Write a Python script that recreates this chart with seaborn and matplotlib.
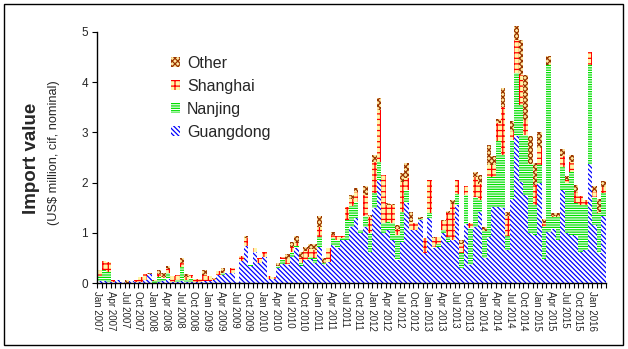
import numpy as np
import pandas as pd
import matplotlib
matplotlib.use("Agg")
import matplotlib.pyplot as plt
from matplotlib.patches import Patch, Rectangle
import seaborn as sns

# ---- data (US$ million), monthly Jan 2007 .. Mar 2016 ----
guangdong = [0.03,0.03,0.02,0.02,0.05,0.01,0.0,0.03,0.01,0.02,
             0.05,0.18,0.0,0.02,0.03,0.08,0.02,0.01,0.03,0.02,
             0.02,0.02,0.02,0.03,0.04,0.06,0.15,0.16,0.19,0.19,
             0.01,0.43,0.74,0.33,0.62,0.39,0.52,0.07,0.07,0.29,
             0.38,0.35,0.52,0.69,0.33,0.46,0.47,0.39,0.72,0.36,
             0.42,0.76,0.69,0.85,0.86,1.11,1.29,0.99,1.11,0.62,
             1.49,2.06,1.0,1.05,0.86,0.46,0.82,1.59,1.05,1.05,
             1.25,0.59,1.29,0.69,0.72,0.99,0.82,0.86,1.55,0.30,
             1.17,0.36,1.12,1.42,0.49,0.92,1.52,1.51,1.49,0.66,
             1.67,2.92,2.02,1.75,1.0,0.96,2.0,0.47,1.02,1.08,
             0.86,1.86,0.99,0.96,0.93,0.62,0.66,2.38,1.16,0.59,
             1.33]
nanjing = [0.10,0.22,0.20,0.0,0.0,0.0,0.0,0.0,0.0,0.0,
           0.0,0.0,0.03,0.10,0.07,0.12,0.0,0.05,0.28,0.03,
           0.07,0.0,0.0,0.0,0.0,0.0,0.0,0.03,0.0,0.0,
           0.0,0.0,0.0,0.03,0.0,0.0,0.0,0.0,0.0,0.05,
           0.09,0.02,0.10,0.05,0.06,0.0,0.05,0.10,0.20,0.04,
           0.0,0.13,0.17,0.05,0.40,0.42,0.33,0.07,0.23,0.37,
           0.30,0.35,0.20,0.17,0.33,0.50,0.60,0.27,0.0,0.0,
           0.03,0.0,0.10,0.03,0.05,0.07,0.10,0.0,0.23,0.30,
           0.58,0.73,0.60,0.23,0.55,1.19,0.60,1.31,1.06,0.27,
           1.18,1.26,1.53,1.20,1.38,0.60,0.35,0.65,3.32,0.23,
           0.46,0.46,1.0,1.26,0.66,0.93,0.90,1.96,0.56,0.80,
           0.46]
shanghai = [0.13,0.19,0.20,0.04,0.0,0.0,0.0,0.0,0.05,0.10,
            0.12,0.0,0.0,0.06,0.02,0.08,0.12,0.10,0.08,0.07,
            0.06,0.05,0.05,0.12,0.10,0.02,0.08,0.0,0.0,0.10,
            0.0,0.10,0.15,0.0,0.07,0.10,0.10,0.06,0.05,0.0,
            0.04,0.10,0.10,0.05,0.10,0.17,0.15,0.17,0.20,0.0,
            0.27,0.07,0.08,0.04,0.25,0.15,0.20,0.0,0.42,0.33,
            0.63,1.03,0.95,0.33,0.36,0.11,0.60,0.23,0.17,0.14,
            0.0,0.30,0.67,0.18,0.15,0.17,0.47,0.72,0.27,0.18,
            0.18,0.10,0.40,0.33,0.0,0.25,0.24,0.37,0.95,0.40,
            0.17,0.66,0.60,0.30,0.0,0.40,0.33,0.07,0.0,0.03,
            0.0,0.20,0.07,0.20,0.23,0.18,0.10,0.27,0.10,0.03,
            0.13]
other = [0.0,0.0,0.0,0.0,0.0,0.0,0.06,0.0,0.0,0.0,
         0.0,0.02,0.03,0.08,0.08,0.05,0.0,0.0,0.11,0.06,
         0.0,0.0,0.0,0.10,0.0,0.02,0.0,0.10,0.0,0.0,
         0.0,0.0,0.05,0.0,0.0,0.0,0.0,0.0,0.0,0.05,
         0.0,0.10,0.10,0.15,0.13,0.09,0.10,0.12,0.21,0.10,
         0.0,0.06,0.0,0.0,0.0,0.08,0.08,0.0,0.18,0.03,
         0.13,0.24,0.0,0.04,0.03,0.08,0.18,0.30,0.20,0.0,
         0.04,0.0,0.0,0.02,0.0,0.03,0.05,0.08,0.0,0.08,
         0.0,0.0,0.10,0.17,0.07,0.38,0.16,0.07,0.38,0.08,
         0.20,0.27,0.70,0.90,0.55,0.43,0.33,0.08,0.18,0.05,
         0.07,0.15,0.08,0.13,0.13,0.0,0.0,0.0,0.11,0.25,
         0.11]

tick_labels = ["Jan 2007","Apr 2007","Jul 2007","Oct 2007",
               "Jan 2008","Apr 2008","Jul 2008","Oct 2008",
               "Jan 2009","Apr 2009","Jul 2009","Oct 2009",
               "Jan 2010","Apr 2010","Jul 2010","Oct 2010",
               "Jan 2011","Apr 2011","Jul 2011","Oct 2011",
               "Jan 2012","Apr 2012","Jul 2012","Oct 2012",
               "Jan 2013","Apr 2013","Jul 2013","Oct 2013",
               "Jan 2014","Apr 2014","Jul 2014","Oct 2014",
               "Jan 2015","Apr 2015","Jul 2015","Oct 2015",
               "Jan 2016"]
series_names = ["Other", "Shanghai", "Nanjing", "Guangdong"]

# ---- style ----
sns.set_style("ticks")
plt.rcParams["font.family"] = ["Liberation Sans", "DejaVu Sans"]
plt.rcParams["hatch.linewidth"] = 0.9

n = len(guangdong)
idx = np.arange(n)
g = np.array(guangdong)
gn = g + np.array(nanjing)
gns = gn + np.array(shanghai)
tot = gns + np.array(other)

df = pd.DataFrame({"m": idx, "G": g, "GN": gn, "GNS": gns, "T": tot})

W, H = 628, 349
fig = plt.figure(figsize=(W / 100, H / 100), dpi=100)
ax = fig.add_axes([97 / W, 1 - 283 / H, 509 / W, 251 / H])

styles = {
    "Other":     dict(fc="#FFE8A0", ec="#993300", hatch="xxxxxx"),
    "Shanghai":  dict(fc="#FFF7A8", ec="#FF0000", hatch="+++"),
    "Nanjing":   dict(fc="#FFFFFF", ec="#00E000", hatch="-------"),
    "Guangdong": dict(fc="#FFFFFF", ec="#0000FF", hatch="\\\\\\\\\\\\\\"),
}
layers = [("T", "Other"), ("GNS", "Shanghai"), ("GN", "Nanjing"), ("G", "Guangdong")]
for col, name in layers:
    st = styles[name]
    sns.barplot(data=df, x="m", y=col, ax=ax, color=st["fc"], saturation=1,
                width=1.0, errorbar=None, edgecolor=st["ec"], linewidth=0,
                hatch=st["hatch"])
for p in ax.patches:
    p.set_clip_on(False)

ax.set_xlim(-0.5, n - 0.5)
ax.set_ylim(0, 5)
ax.set_xlabel("")
ax.set_ylabel("")
sns.despine(ax=ax)
for s in ("left", "bottom"):
    ax.spines[s].set_color("black")
    ax.spines[s].set_linewidth(1.0)

xt = np.arange(n + 1) - 0.5
lab = [""] * len(xt)
for k, t in enumerate(tick_labels):
    lab[3 * k] = t
ax.set_xticks(xt)
ax.set_xticklabels(lab, rotation=-90, fontsize=7, va="top", ha="center")
ax.tick_params(axis="x", direction="out", length=3.5, width=0.8, color="black", pad=2)
ax.set_yticks([0, 1, 2, 3, 4, 5])
ax.set_yticklabels(["0", "1", "2", "3", "4", "5"], fontsize=8.5)
ax.tick_params(axis="y", direction="out", length=3.5, width=0.8, color="black", pad=3)

# axis titles
fig.text(31 / W, 1 - 158 / H, "Import value", rotation=90, fontsize=13.5,
         fontweight="bold", ha="center", va="center")
fig.text(54 / W, 1 - 153 / H, "(US$ million, cif, nominal)", rotation=90,
         fontsize=9.2, ha="center", va="center")

# legend
handles = [Patch(facecolor=styles[nm]["fc"], edgecolor=styles[nm]["ec"],
                 hatch=styles[nm]["hatch"], linewidth=0) for nm in series_names]
ax.legend(handles, series_names, loc="upper left", bbox_to_anchor=(0.145, 0.905),
          frameon=False, fontsize=11.5, handlelength=0.6, handleheight=0.6,
          handletextpad=0.4, labelspacing=0.5, borderpad=0, borderaxespad=0)

# outer border
fig.add_artist(Rectangle((4 / W, 1 - 345 / H), 619 / W, 341 / H, fill=False,
                         edgecolor="black", linewidth=1.0,
                         transform=fig.transFigure))

fig.savefig("out.png", dpi=100)
